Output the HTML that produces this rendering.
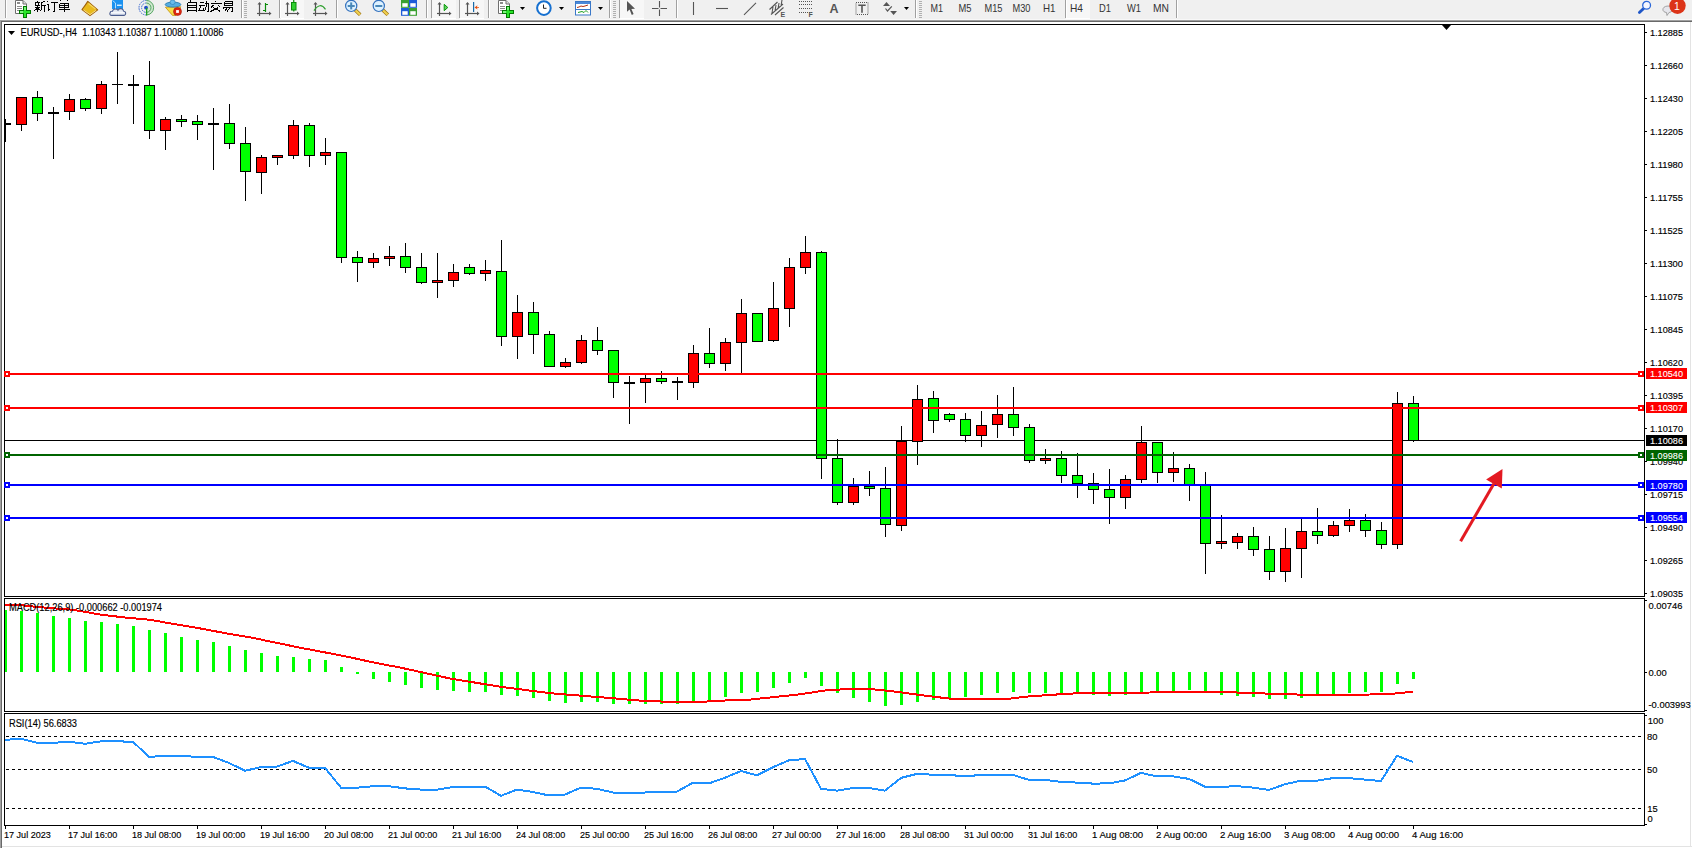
<!DOCTYPE html><html><head><meta charset="utf-8"><style>html,body{margin:0;padding:0;width:1692px;height:848px;overflow:hidden;background:#fff;font-family:"Liberation Sans",sans-serif;}svg{position:absolute;left:0;top:0}text{font-family:"Liberation Sans",sans-serif}</style></head><body>
<svg width="1692" height="848" viewBox="0 0 1692 848">
<g shape-rendering="crispEdges">
<rect x="0" y="0" width="1692" height="19" fill="#F0F0F0"/>
<rect x="0" y="19" width="1692" height="1" fill="#F8F8F8"/>
<rect x="0" y="20" width="1692" height="1" fill="#A0A0A0"/>
<rect x="0" y="21" width="1692" height="1" fill="#696969"/>
<rect x="0" y="20" width="1" height="828" fill="#A0A0A0"/>
<rect x="1" y="21" width="1" height="827" fill="#696969"/>
<rect x="2" y="846" width="1690" height="1" fill="#E3E3E3"/>
<rect x="1690" y="22" width="1" height="825" fill="#E3E3E3"/>
</g>
<rect x="5" y="0" width="1" height="18" fill="#A0A0A0" shape-rendering="crispEdges"/>
<rect x="6" y="0" width="1" height="18" fill="#FFFFFF" shape-rendering="crispEdges"/>
<path d="M15.5,0.5 H23 L26.5,4 V13.5 H15.5 Z" fill="#FFFFFF" stroke="#6E6E6E" stroke-width="1"/>
<path d="M23,0.5 V4 H26.5" fill="#E0E0E0" stroke="#6E6E6E" stroke-width="1"/>
<rect x="17" y="2" width="3" height="2" fill="#8A8A8A"/>
<rect x="17" y="6" width="5" height="1" fill="#8A8A8A"/>
<rect x="17" y="8" width="5" height="1" fill="#8A8A8A"/>
<rect x="17" y="10" width="5" height="1" fill="#8A8A8A"/>
<path d="M23.5,6.5 H26.5 V10.5 H30.5 V13.5 H26.5 V17.5 H23.5 V13.5 H19.5 V10.5 H23.5 Z" fill="#28E428" stroke="#007A00" stroke-width="1" shape-rendering="crispEdges"/>
<rect x="24" y="7" width="2" height="3" fill="#7CF47C"/>
<rect x="20" y="11" width="3" height="2" fill="#7CF47C"/>
<path d="M37.5,0.5 L37.5,1.5 M34.5,2.5 L39.5,2.5 M35.5,3.5 L36,4.5 M38.5,3.5 L38,4.5 M34.5,5.5 L39.5,5.5 M34.5,7.5 L39.5,7.5 M37.5,5.5 L37.5,11.5 M37,8.5 L34.5,10.5 M38,8.5 L39.5,10 M45,1 L41.5,2.5 M41.5,2.5 L41.5,8 L40.5,11.5 M41.5,5.5 L45.5,5.5 M44.5,5.5 L44.5,11.5" fill="none" stroke="#000" stroke-width="1" shape-rendering="crispEdges"/>
<path d="M47.5,1 L48.5,2.5 M46.5,4.5 L48.5,4.5 L48.5,10.5 L50,9 M50.5,2.5 L57.5,2.5 M54.5,2.5 L54.5,11.5 L52.5,11.5" fill="none" stroke="#000" stroke-width="1" shape-rendering="crispEdges"/>
<path d="M60.5,0.5 L61.5,1.5 M67.5,0.5 L66.5,1.5 M59.5,3.5 L68.5,3.5 L68.5,7.5 L59.5,7.5 L59.5,3.5 M59.5,5.5 L68.5,5.5 M64.5,3.5 L64.5,12 M58.5,9.5 L69.5,9.5" fill="none" stroke="#000" stroke-width="1" shape-rendering="crispEdges"/>
<path d="M190.5,0.5 L190,1.5 M187.5,2.5 L196.5,2.5 M187.5,2.5 L187.5,11.5 M196.5,2.5 L196.5,11.5 M187.5,5.5 L196.5,5.5 M187.5,7.5 L196.5,7.5 M187.5,10.5 L196.5,10.5" fill="none" stroke="#000" stroke-width="1" shape-rendering="crispEdges"/>
<path d="M199.5,2.5 L204,2.5 M198.5,5.5 L204.5,5.5 M201,5.5 L199,10.5 L204,10 M203,8.5 L204.5,11 M204.5,3.5 L208.5,3.5 L208.5,11 L207.5,11.5 M206.5,0.5 L206.5,5 L204.5,11.5" fill="none" stroke="#000" stroke-width="1" shape-rendering="crispEdges"/>
<path d="M215.5,0.5 L215.5,2 M210.5,3.5 L221.5,3.5 M213.5,5 L211,7.5 M218,5 L220.5,7.5 M213,7.5 L220.5,11.5 M218.5,7.5 L210.5,11.5" fill="none" stroke="#000" stroke-width="1" shape-rendering="crispEdges"/>
<path d="M224.5,1.5 L232.5,1.5 L232.5,5.5 L224.5,5.5 L224.5,1.5 M224.5,3.5 L232.5,3.5 M223,7.5 L232.5,7.5 L232.5,11.5 L231,11.5 M224.5,7.5 L222.5,9.5 M227.5,7.5 L224.5,11.5 M230,7.5 L227,11.5" fill="none" stroke="#000" stroke-width="1" shape-rendering="crispEdges"/>
<path d="M87.8,1.4 C86.5,3.5 84,7 82,9.5 L90,15.6 L97.7,9.8 Z" fill="#E9BA1C" stroke="#A0620A" stroke-width="1.1" stroke-linejoin="round"/>
<path d="M83.5,10 L90,14.6 L96.3,10.2" fill="none" stroke="#F6DC8A" stroke-width="1"/>
<path d="M88.5,3.5 L95.5,9" fill="none" stroke="#F5D860" stroke-width="1.2"/>
<rect x="112" y="0" width="11" height="9" fill="#1C92F0"/>
<path d="M112.5,0.5 L115.5,3 V9" fill="none" stroke="#BFE4FF" stroke-width="0.9"/>
<rect x="117" y="4.6" width="4.7" height="1.3" fill="#E8F6FF"/>
<path d="M111.5,15.4 C109,15.4 109.3,11.2 112.4,11.4 C112.8,8.6 116.5,8.2 118,10.2 C119.5,7.8 123.5,8.3 123.6,11.3 C126.3,11.3 126.3,15.4 123.8,15.4 Z" fill="#E2E7F0" stroke="#4A5C8E" stroke-width="1.1"/>
<rect x="111" y="11.8" width="13.5" height="1.6" fill="#F6F8FC"/>
<path d="M146.3,0.3 A7.4,7.4 0 0 1 146.3,15.1 Z" fill="#D2E8D2"/>
<path d="M146.3,0.40000000000000036 A7.3,7.3 0 0 0 146.3,15.0" fill="none" stroke="#3A68D0" stroke-width="1" stroke-dasharray="1.6 0.8"/>
<path d="M146.3,0.40000000000000036 A7.3,7.3 0 0 1 146.3,15.0" fill="none" stroke="#3F9A4F" stroke-width="1" opacity="0.85"/>
<path d="M146.3,3.0 A4.7,4.7 0 0 0 146.3,12.4" fill="none" stroke="#3A68D0" stroke-width="1" stroke-dasharray="1.6 0.8"/>
<path d="M146.3,3.0 A4.7,4.7 0 0 1 146.3,12.4" fill="none" stroke="#3F9A4F" stroke-width="1" opacity="0.85"/>
<circle cx="146" cy="7.7" r="1.9" fill="#2050C8"/>
<rect x="146" y="8" width="1.3" height="7.5" fill="#1EA01E"/>
<path d="M165.4,7.2 L180.8,6.8 L176,15.4 L172.5,15.4 Z" fill="#F6DC48" stroke="#C89A18" stroke-width="0.9" stroke-linejoin="round"/>
<ellipse cx="173" cy="4.6" rx="7.8" ry="2.5" fill="#55AEE2" stroke="#2A7AB0" stroke-width="0.9"/>
<ellipse cx="172.6" cy="2.2" rx="2.6" ry="2.3" fill="#6ABCEC" stroke="#2A7AB0" stroke-width="0.6"/>
<circle cx="177.5" cy="11.5" r="4" fill="#DE2810" stroke="#A81808" stroke-width="0.6"/>
<rect x="176.1" y="10.1" width="2.8" height="2.8" fill="#FFFFFF"/>
<rect x="241" y="0" width="1" height="18" fill="#A0A0A0" shape-rendering="crispEdges"/>
<rect x="242" y="0" width="1" height="18" fill="#FFFFFF" shape-rendering="crispEdges"/>
<rect x="244" y="1" width="3" height="1" fill="#B0B0B0" shape-rendering="crispEdges"/>
<rect x="244" y="3" width="3" height="1" fill="#B0B0B0" shape-rendering="crispEdges"/>
<rect x="244" y="5" width="3" height="1" fill="#B0B0B0" shape-rendering="crispEdges"/>
<rect x="244" y="7" width="3" height="1" fill="#B0B0B0" shape-rendering="crispEdges"/>
<rect x="244" y="9" width="3" height="1" fill="#B0B0B0" shape-rendering="crispEdges"/>
<rect x="244" y="11" width="3" height="1" fill="#B0B0B0" shape-rendering="crispEdges"/>
<rect x="244" y="13" width="3" height="1" fill="#B0B0B0" shape-rendering="crispEdges"/>
<rect x="244" y="15" width="3" height="1" fill="#B0B0B0" shape-rendering="crispEdges"/>
<rect x="244" y="17" width="3" height="1" fill="#B0B0B0" shape-rendering="crispEdges"/>
<g stroke="#555555" stroke-width="1.2" fill="none"><line x1="259.5" y1="3" x2="259.5" y2="16"/><line x1="257" y1="13.5" x2="270" y2="13.5"/></g>
<polygon points="257.5,4.5 261.5,4.5 259.5,2" fill="#555555"/>
<polygon points="269,11.5 269,15.5 271.5,13.5" fill="#555555"/>
<path d="M265.5,3 V12 M263,10.5 H265.5 M265.5,4.5 H268" stroke="#0A8A0A" stroke-width="1.2" fill="none"/>
<rect x="279" y="0" width="1" height="18" fill="#A0A0A0" shape-rendering="crispEdges"/>
<rect x="280" y="0" width="1" height="18" fill="#FFFFFF" shape-rendering="crispEdges"/>
<rect x="281" y="0" width="23" height="18" fill="#F7F7F7" shape-rendering="crispEdges"/>
<rect x="281" y="18" width="23" height="1" fill="#FFFFFF" shape-rendering="crispEdges"/>
<g stroke="#555555" stroke-width="1.2" fill="none"><line x1="287.5" y1="3" x2="287.5" y2="16"/><line x1="285" y1="13.5" x2="298" y2="13.5"/></g>
<polygon points="285.5,4.5 289.5,4.5 287.5,2" fill="#555555"/>
<polygon points="297,11.5 297,15.5 299.5,13.5" fill="#555555"/>
<rect x="291.5" y="2.5" width="4.5" height="7.5" fill="#30D030" stroke="#0A8A0A" stroke-width="1"/>
<path d="M293.75,0 V2.5 M293.75,10 V11.5" stroke="#0A8A0A" stroke-width="1.2"/>
<g stroke="#555555" stroke-width="1.2" fill="none"><line x1="315.5" y1="3" x2="315.5" y2="16"/><line x1="313" y1="13.5" x2="326" y2="13.5"/></g>
<polygon points="313.5,4.5 317.5,4.5 315.5,2" fill="#555555"/>
<polygon points="325,11.5 325,15.5 327.5,13.5" fill="#555555"/>
<path d="M314,10.6 Q320,1.5 325.5,9.3" fill="none" stroke="#30A030" stroke-width="1.2"/>
<rect x="336" y="0" width="1" height="18" fill="#A0A0A0" shape-rendering="crispEdges"/>
<rect x="337" y="0" width="1" height="18" fill="#FFFFFF" shape-rendering="crispEdges"/>
<line x1="355.2" y1="10" x2="360.2" y2="14.8" stroke="#9A7010" stroke-width="3.6"/>
<line x1="355.4" y1="10.2" x2="360.0" y2="14.6" stroke="#F0D050" stroke-width="2.2"/>
<circle cx="351.2" cy="5.9" r="5.6" fill="#DDF1FF" stroke="#3472BE" stroke-width="1.2"/>
<rect x="347.7" y="5" width="7" height="2" fill="#4A88B8"/>
<rect x="350.2" y="2.4" width="2" height="7" fill="#4A88B8"/>
<line x1="382.8" y1="10" x2="387.8" y2="14.8" stroke="#9A7010" stroke-width="3.6"/>
<line x1="383.0" y1="10.2" x2="387.6" y2="14.6" stroke="#F0D050" stroke-width="2.2"/>
<circle cx="378.8" cy="5.9" r="5.6" fill="#DDF1FF" stroke="#3472BE" stroke-width="1.2"/>
<rect x="375.3" y="5" width="7" height="2" fill="#4A88B8"/>
<rect x="401" y="0" width="8" height="7.8" fill="#3AA030"/>
<rect x="402.3" y="3.2" width="5.4" height="3.6" fill="#FFFFFF"/>
<rect x="409" y="0" width="8" height="7.8" fill="#1E5CD8"/>
<rect x="410.3" y="3.2" width="5.4" height="3.6" fill="#FFFFFF"/>
<rect x="401" y="8" width="8" height="7.8" fill="#1E5CD8"/>
<rect x="402.3" y="11.2" width="5.4" height="3.6" fill="#FFFFFF"/>
<rect x="409" y="8" width="8" height="7.8" fill="#3AA030"/>
<rect x="410.3" y="11.2" width="5.4" height="3.6" fill="#FFFFFF"/>
<rect x="426" y="0" width="1" height="18" fill="#A0A0A0" shape-rendering="crispEdges"/>
<rect x="427" y="0" width="1" height="18" fill="#FFFFFF" shape-rendering="crispEdges"/>
<rect x="431" y="0" width="1" height="18" fill="#A0A0A0" shape-rendering="crispEdges"/>
<rect x="432" y="0" width="1" height="18" fill="#FFFFFF" shape-rendering="crispEdges"/>
<rect x="432" y="0" width="24" height="18" fill="#F7F7F7" shape-rendering="crispEdges"/>
<rect x="432" y="18" width="24" height="1" fill="#FFFFFF" shape-rendering="crispEdges"/>
<g stroke="#555555" stroke-width="1.2" fill="none"><line x1="439.5" y1="3" x2="439.5" y2="16"/><line x1="437" y1="13.5" x2="450" y2="13.5"/></g>
<polygon points="437.5,4.5 441.5,4.5 439.5,2" fill="#555555"/>
<polygon points="449,11.5 449,15.5 451.5,13.5" fill="#555555"/>
<polygon points="444.2,4.3 447.8,7.5 444.2,10.7" fill="#60D060" stroke="#0A9A0A" stroke-width="1"/>
<rect x="459" y="0" width="1" height="18" fill="#A0A0A0" shape-rendering="crispEdges"/>
<rect x="460" y="0" width="1" height="18" fill="#FFFFFF" shape-rendering="crispEdges"/>
<rect x="460" y="0" width="24" height="18" fill="#F7F7F7" shape-rendering="crispEdges"/>
<rect x="460" y="18" width="24" height="1" fill="#FFFFFF" shape-rendering="crispEdges"/>
<g stroke="#555555" stroke-width="1.2" fill="none"><line x1="467.5" y1="3" x2="467.5" y2="16"/><line x1="465" y1="13.5" x2="478" y2="13.5"/></g>
<polygon points="465.5,4.5 469.5,4.5 467.5,2" fill="#555555"/>
<polygon points="477,11.5 477,15.5 479.5,13.5" fill="#555555"/>
<rect x="473" y="2" width="1.2" height="10" fill="#1A6AA8"/>
<path d="M474.5,7.4 L477.5,5.2 L477,7 L479,7 L479,7.8 L477,7.8 L477.5,9.6 Z" fill="#E85010"/>
<rect x="488" y="0" width="1" height="18" fill="#A0A0A0" shape-rendering="crispEdges"/>
<rect x="489" y="0" width="1" height="18" fill="#FFFFFF" shape-rendering="crispEdges"/>
<path d="M498.5,0.5 H506 L509.5,4 V13.5 H498.5 Z" fill="#FFFFFF" stroke="#6E6E6E" stroke-width="1"/>
<path d="M506,0.5 V4 H509.5" fill="#E0E0E0" stroke="#6E6E6E" stroke-width="1"/>
<rect x="500" y="2" width="3" height="2" fill="#8A8A8A"/>
<rect x="500" y="6" width="5" height="1" fill="#8A8A8A"/>
<rect x="500" y="8" width="5" height="1" fill="#8A8A8A"/>
<rect x="500" y="10" width="5" height="1" fill="#8A8A8A"/>
<path d="M506.5,6.5 H509.5 V10.5 H513.5 V13.5 H509.5 V17.5 H506.5 V13.5 H502.5 V10.5 H506.5 Z" fill="#28E428" stroke="#007A00" stroke-width="1" shape-rendering="crispEdges"/>
<rect x="507" y="7" width="2" height="3" fill="#7CF47C"/>
<rect x="503" y="11" width="3" height="2" fill="#7CF47C"/>
<polygon points="520,7 525,7 522.5,10" fill="#000"/>
<circle cx="543.9" cy="8.1" r="6.8" fill="#FFFFFF" stroke="#1670D0" stroke-width="2"/>
<path d="M543.5,4.5 V8.3 H546.5" fill="none" stroke="#222" stroke-width="1"/>
<polygon points="559,7 564,7 561.5,10" fill="#000"/>
<rect x="575.5" y="1.5" width="15" height="13.5" fill="#FFFFFF" stroke="#3A78C8" stroke-width="1"/>
<rect x="576" y="2" width="14" height="2" fill="#4A88D8"/>
<rect x="576" y="9" width="14" height="1" fill="#3A78C8"/>
<path d="M577,7.5 L579,7 L581,6 L583,6.5 L585,6 L588,5" fill="none" stroke="#B03010" stroke-width="1"/>
<path d="M578,12.5 L580,12 L582,11.5 L584,12.5 L586,10.5 L588,12.5" fill="none" stroke="#20A020" stroke-width="1"/>
<polygon points="598,7 603,7 600.5,10" fill="#000"/>
<rect x="609" y="0" width="1" height="18" fill="#A0A0A0" shape-rendering="crispEdges"/>
<rect x="610" y="0" width="1" height="18" fill="#FFFFFF" shape-rendering="crispEdges"/>
<rect x="613" y="1" width="3" height="1" fill="#B0B0B0" shape-rendering="crispEdges"/>
<rect x="613" y="3" width="3" height="1" fill="#B0B0B0" shape-rendering="crispEdges"/>
<rect x="613" y="5" width="3" height="1" fill="#B0B0B0" shape-rendering="crispEdges"/>
<rect x="613" y="7" width="3" height="1" fill="#B0B0B0" shape-rendering="crispEdges"/>
<rect x="613" y="9" width="3" height="1" fill="#B0B0B0" shape-rendering="crispEdges"/>
<rect x="613" y="11" width="3" height="1" fill="#B0B0B0" shape-rendering="crispEdges"/>
<rect x="613" y="13" width="3" height="1" fill="#B0B0B0" shape-rendering="crispEdges"/>
<rect x="613" y="15" width="3" height="1" fill="#B0B0B0" shape-rendering="crispEdges"/>
<rect x="613" y="17" width="3" height="1" fill="#B0B0B0" shape-rendering="crispEdges"/>
<rect x="619" y="0" width="1" height="18" fill="#A0A0A0" shape-rendering="crispEdges"/>
<rect x="620" y="0" width="1" height="18" fill="#FFFFFF" shape-rendering="crispEdges"/>
<rect x="620" y="0" width="24" height="18" fill="#F7F7F7" shape-rendering="crispEdges"/>
<rect x="620" y="18" width="24" height="1" fill="#FFFFFF" shape-rendering="crispEdges"/>
<path d="M627,1 L627,11.7 L629.6,9.5 L631.8,14.9 L633.6,14.1 L631.4,9 L635,8.8 Z" fill="#555555"/>
<path d="M659.5,1 V7.5 M659.5,9.5 V16 M652,8.5 H658.5 M660.5,8.5 H667" stroke="#555555" stroke-width="1.1" fill="none"/>
<rect x="676" y="0" width="1" height="18" fill="#A0A0A0" shape-rendering="crispEdges"/>
<rect x="677" y="0" width="1" height="18" fill="#FFFFFF" shape-rendering="crispEdges"/>
<line x1="693.5" y1="2" x2="693.5" y2="15" stroke="#555555" stroke-width="1.1"/>
<line x1="716" y1="8.5" x2="728" y2="8.5" stroke="#555555" stroke-width="1.1"/>
<line x1="744" y1="14.8" x2="756" y2="2.8" stroke="#555555" stroke-width="1.1"/>
<path d="M769.5,9.5 L777.5,2 M771,14.5 L783,4 M775,15 L783.5,7.5 M773,7 L772,13 M776,5 L775,11 M779,3 L778,9 M782,0 L781,6" fill="none" stroke="#555555" stroke-width="1.1"/>
<text x="780.5" y="17" font-size="7" font-weight="bold" fill="#555555">E</text>
<line x1="799" y1="1.5" x2="813" y2="1.5" stroke="#555555" stroke-width="1" stroke-dasharray="1 1"/>
<line x1="799" y1="4.5" x2="813" y2="4.5" stroke="#555555" stroke-width="1" stroke-dasharray="1 1"/>
<line x1="799" y1="8.5" x2="813" y2="8.5" stroke="#555555" stroke-width="1" stroke-dasharray="1 1"/>
<line x1="799" y1="12.5" x2="813" y2="12.5" stroke="#555555" stroke-width="1" stroke-dasharray="1 1"/>
<text x="808.5" y="17" font-size="7" font-weight="bold" fill="#555555">F</text>
<text x="829.5" y="13.2" font-size="12.5" font-weight="bold" fill="#555555">A</text>
<rect x="856" y="2.5" width="12" height="12" fill="none" stroke="#555555" stroke-width="1" stroke-dasharray="1 1"/>
<path d="M858.3,5.3 H865.7 M862,5.3 V12.8" stroke="#555555" stroke-width="1.6" fill="none"/>
<polygon points="883,6 890,6 886.5,2" fill="#555555"/>
<path d="M885.5,8.5 L887.5,11 L891.8,6.4" fill="none" stroke="#555555" stroke-width="1.2"/>
<polygon points="890.2,11 897,11 893.6,15" fill="#555555"/>
<polygon points="904,7 909,7 906.5,10" fill="#000"/>
<rect x="915" y="0" width="1" height="18" fill="#A0A0A0" shape-rendering="crispEdges"/>
<rect x="916" y="0" width="1" height="18" fill="#FFFFFF" shape-rendering="crispEdges"/>
<rect x="919" y="1" width="3" height="1" fill="#B0B0B0" shape-rendering="crispEdges"/>
<rect x="919" y="3" width="3" height="1" fill="#B0B0B0" shape-rendering="crispEdges"/>
<rect x="919" y="5" width="3" height="1" fill="#B0B0B0" shape-rendering="crispEdges"/>
<rect x="919" y="7" width="3" height="1" fill="#B0B0B0" shape-rendering="crispEdges"/>
<rect x="919" y="9" width="3" height="1" fill="#B0B0B0" shape-rendering="crispEdges"/>
<rect x="919" y="11" width="3" height="1" fill="#B0B0B0" shape-rendering="crispEdges"/>
<rect x="919" y="13" width="3" height="1" fill="#B0B0B0" shape-rendering="crispEdges"/>
<rect x="919" y="15" width="3" height="1" fill="#B0B0B0" shape-rendering="crispEdges"/>
<rect x="919" y="17" width="3" height="1" fill="#B0B0B0" shape-rendering="crispEdges"/>
<rect x="1066" y="0" width="24" height="18" fill="#F7F7F7" shape-rendering="crispEdges"/>
<rect x="1066" y="18" width="24" height="1" fill="#FFFFFF" shape-rendering="crispEdges"/>
<rect x="1065" y="0" width="1" height="18" fill="#A0A0A0" shape-rendering="crispEdges"/>
<rect x="1066" y="0" width="1" height="18" fill="#FFFFFF" shape-rendering="crispEdges"/>
<text x="930.5" y="12.3" font-size="10.4" fill="#333333" textLength="12.5" lengthAdjust="spacingAndGlyphs">M1</text>
<text x="958.5" y="12.3" font-size="10.4" fill="#333333" textLength="13" lengthAdjust="spacingAndGlyphs">M5</text>
<text x="984.5" y="12.3" font-size="10.4" fill="#333333" textLength="18" lengthAdjust="spacingAndGlyphs">M15</text>
<text x="1012.5" y="12.3" font-size="10.4" fill="#333333" textLength="18" lengthAdjust="spacingAndGlyphs">M30</text>
<text x="1043" y="12.3" font-size="10.4" fill="#333333" textLength="12.5" lengthAdjust="spacingAndGlyphs">H1</text>
<text x="1070" y="12.3" font-size="10.4" fill="#333333" textLength="13" lengthAdjust="spacingAndGlyphs">H4</text>
<text x="1099" y="12.3" font-size="10.4" fill="#333333" textLength="12" lengthAdjust="spacingAndGlyphs">D1</text>
<text x="1127" y="12.3" font-size="10.4" fill="#333333" textLength="14" lengthAdjust="spacingAndGlyphs">W1</text>
<text x="1153" y="12.3" font-size="10.4" fill="#333333" textLength="16" lengthAdjust="spacingAndGlyphs">MN</text>
<rect x="1176" y="0" width="1" height="18" fill="#A0A0A0" shape-rendering="crispEdges"/>
<rect x="1177" y="0" width="1" height="18" fill="#FFFFFF" shape-rendering="crispEdges"/>
<line x1="1643.6" y1="8.4" x2="1639.4" y2="12.6" stroke="#1E56C8" stroke-width="2.8" stroke-linecap="round"/>
<circle cx="1646.6" cy="5.3" r="3.9" fill="#F4F6FF" stroke="#2A66D8" stroke-width="1.3"/>
<path d="M1667,15.5 L1666.5,12.5 C1661,12 1662,6 1668,6 C1673,6 1674,12 1669,12.5 Z" fill="#E6E6EC" stroke="#9A9A9A" stroke-width="0.9"/>
<circle cx="1677.5" cy="5.8" r="8.2" fill="#DC3418"/>
<text x="1674" y="10" font-size="10.5" fill="#FFFFFF" font-family="Liberation Serif">1</text>
<g shape-rendering="crispEdges" fill="none" stroke="#000" stroke-width="1">
<rect x="4.5" y="24.5" width="1640" height="572"/>
<rect x="4.5" y="598.5" width="1640" height="113"/>
<rect x="4.5" y="713.5" width="1640" height="112"/>
</g>
<defs><clipPath id="cm"><rect x="5" y="25" width="1639" height="571"/></clipPath><clipPath id="cd"><rect x="5" y="599" width="1639" height="112"/></clipPath><clipPath id="cr"><rect x="5" y="714" width="1639" height="111"/></clipPath></defs>
<g clip-path="url(#cm)" shape-rendering="crispEdges">
<rect x="5" y="440" width="1639" height="1" fill="#000"/>
<rect x="5" y="119" width="1" height="23" fill="#000"/>
<rect x="0" y="123" width="11" height="2" fill="#000"/>
<rect x="21" y="97" width="1" height="34" fill="#000"/>
<rect x="16" y="97" width="11" height="28" fill="#000"/>
<rect x="17" y="98" width="9" height="26" fill="#FF0000"/>
<rect x="37" y="91" width="1" height="30" fill="#000"/>
<rect x="32" y="97" width="11" height="17" fill="#000"/>
<rect x="33" y="98" width="9" height="15" fill="#00FF00"/>
<rect x="53" y="107" width="1" height="52" fill="#000"/>
<rect x="48" y="112" width="11" height="2" fill="#000"/>
<rect x="69" y="94" width="1" height="26" fill="#000"/>
<rect x="64" y="99" width="11" height="13" fill="#000"/>
<rect x="65" y="100" width="9" height="11" fill="#FF0000"/>
<rect x="85" y="98" width="1" height="13" fill="#000"/>
<rect x="80" y="99" width="11" height="10" fill="#000"/>
<rect x="81" y="100" width="9" height="8" fill="#00FF00"/>
<rect x="101" y="81" width="1" height="33" fill="#000"/>
<rect x="96" y="84" width="11" height="25" fill="#000"/>
<rect x="97" y="85" width="9" height="23" fill="#FF0000"/>
<rect x="117" y="52" width="1" height="52" fill="#000"/>
<rect x="112" y="84" width="11" height="1" fill="#000"/>
<rect x="133" y="75" width="1" height="49" fill="#000"/>
<rect x="128" y="84" width="11" height="2" fill="#000"/>
<rect x="149" y="61" width="1" height="78" fill="#000"/>
<rect x="144" y="85" width="11" height="46" fill="#000"/>
<rect x="145" y="86" width="9" height="44" fill="#00FF00"/>
<rect x="165" y="117" width="1" height="33" fill="#000"/>
<rect x="160" y="119" width="11" height="12" fill="#000"/>
<rect x="161" y="120" width="9" height="10" fill="#FF0000"/>
<rect x="181" y="115" width="1" height="12" fill="#000"/>
<rect x="176" y="119" width="11" height="3" fill="#000"/>
<rect x="177" y="120" width="9" height="1" fill="#00FF00"/>
<rect x="197" y="115" width="1" height="25" fill="#000"/>
<rect x="192" y="121" width="11" height="4" fill="#000"/>
<rect x="193" y="122" width="9" height="2" fill="#00FF00"/>
<rect x="213" y="108" width="1" height="62" fill="#000"/>
<rect x="208" y="123" width="11" height="2" fill="#000"/>
<rect x="229" y="104" width="1" height="45" fill="#000"/>
<rect x="224" y="123" width="11" height="21" fill="#000"/>
<rect x="225" y="124" width="9" height="19" fill="#00FF00"/>
<rect x="245" y="127" width="1" height="74" fill="#000"/>
<rect x="240" y="143" width="11" height="29" fill="#000"/>
<rect x="241" y="144" width="9" height="27" fill="#00FF00"/>
<rect x="261" y="155" width="1" height="39" fill="#000"/>
<rect x="256" y="157" width="11" height="16" fill="#000"/>
<rect x="257" y="158" width="9" height="14" fill="#FF0000"/>
<rect x="277" y="155" width="1" height="10" fill="#000"/>
<rect x="272" y="155" width="11" height="3" fill="#000"/>
<rect x="273" y="156" width="9" height="1" fill="#FF0000"/>
<rect x="293" y="120" width="1" height="39" fill="#000"/>
<rect x="288" y="125" width="11" height="31" fill="#000"/>
<rect x="289" y="126" width="9" height="29" fill="#FF0000"/>
<rect x="309" y="123" width="1" height="44" fill="#000"/>
<rect x="304" y="125" width="11" height="31" fill="#000"/>
<rect x="305" y="126" width="9" height="29" fill="#00FF00"/>
<rect x="325" y="138" width="1" height="27" fill="#000"/>
<rect x="320" y="152" width="11" height="4" fill="#000"/>
<rect x="321" y="153" width="9" height="2" fill="#FF0000"/>
<rect x="341" y="152" width="1" height="111" fill="#000"/>
<rect x="336" y="152" width="11" height="106" fill="#000"/>
<rect x="337" y="153" width="9" height="104" fill="#00FF00"/>
<rect x="357" y="251" width="1" height="31" fill="#000"/>
<rect x="352" y="257" width="11" height="6" fill="#000"/>
<rect x="353" y="258" width="9" height="4" fill="#00FF00"/>
<rect x="373" y="253" width="1" height="15" fill="#000"/>
<rect x="368" y="258" width="11" height="5" fill="#000"/>
<rect x="369" y="259" width="9" height="3" fill="#FF0000"/>
<rect x="389" y="246" width="1" height="20" fill="#000"/>
<rect x="384" y="256" width="11" height="3" fill="#000"/>
<rect x="385" y="257" width="9" height="1" fill="#FF0000"/>
<rect x="405" y="243" width="1" height="30" fill="#000"/>
<rect x="400" y="256" width="11" height="12" fill="#000"/>
<rect x="401" y="257" width="9" height="10" fill="#00FF00"/>
<rect x="421" y="253" width="1" height="31" fill="#000"/>
<rect x="416" y="267" width="11" height="16" fill="#000"/>
<rect x="417" y="268" width="9" height="14" fill="#00FF00"/>
<rect x="437" y="253" width="1" height="45" fill="#000"/>
<rect x="432" y="280" width="11" height="3" fill="#000"/>
<rect x="433" y="281" width="9" height="1" fill="#FF0000"/>
<rect x="453" y="264" width="1" height="23" fill="#000"/>
<rect x="448" y="272" width="11" height="9" fill="#000"/>
<rect x="449" y="273" width="9" height="7" fill="#FF0000"/>
<rect x="469" y="264" width="1" height="11" fill="#000"/>
<rect x="464" y="267" width="11" height="7" fill="#000"/>
<rect x="465" y="268" width="9" height="5" fill="#00FF00"/>
<rect x="485" y="260" width="1" height="21" fill="#000"/>
<rect x="480" y="270" width="11" height="4" fill="#000"/>
<rect x="481" y="271" width="9" height="2" fill="#FF0000"/>
<rect x="501" y="240" width="1" height="106" fill="#000"/>
<rect x="496" y="271" width="11" height="66" fill="#000"/>
<rect x="497" y="272" width="9" height="64" fill="#00FF00"/>
<rect x="517" y="295" width="1" height="64" fill="#000"/>
<rect x="512" y="312" width="11" height="25" fill="#000"/>
<rect x="513" y="313" width="9" height="23" fill="#FF0000"/>
<rect x="533" y="302" width="1" height="52" fill="#000"/>
<rect x="528" y="312" width="11" height="23" fill="#000"/>
<rect x="529" y="313" width="9" height="21" fill="#00FF00"/>
<rect x="549" y="331" width="1" height="36" fill="#000"/>
<rect x="544" y="334" width="11" height="33" fill="#000"/>
<rect x="545" y="335" width="9" height="31" fill="#00FF00"/>
<rect x="565" y="358" width="1" height="10" fill="#000"/>
<rect x="560" y="362" width="11" height="5" fill="#000"/>
<rect x="561" y="363" width="9" height="3" fill="#FF0000"/>
<rect x="581" y="335" width="1" height="29" fill="#000"/>
<rect x="576" y="340" width="11" height="23" fill="#000"/>
<rect x="577" y="341" width="9" height="21" fill="#FF0000"/>
<rect x="597" y="327" width="1" height="28" fill="#000"/>
<rect x="592" y="340" width="11" height="11" fill="#000"/>
<rect x="593" y="341" width="9" height="9" fill="#00FF00"/>
<rect x="613" y="350" width="1" height="48" fill="#000"/>
<rect x="608" y="350" width="11" height="33" fill="#000"/>
<rect x="609" y="351" width="9" height="31" fill="#00FF00"/>
<rect x="629" y="376" width="1" height="48" fill="#000"/>
<rect x="624" y="382" width="11" height="2" fill="#000"/>
<rect x="645" y="375" width="1" height="28" fill="#000"/>
<rect x="640" y="378" width="11" height="5" fill="#000"/>
<rect x="641" y="379" width="9" height="3" fill="#FF0000"/>
<rect x="661" y="371" width="1" height="13" fill="#000"/>
<rect x="656" y="378" width="11" height="4" fill="#000"/>
<rect x="657" y="379" width="9" height="2" fill="#00FF00"/>
<rect x="677" y="377" width="1" height="23" fill="#000"/>
<rect x="672" y="381" width="11" height="2" fill="#000"/>
<rect x="693" y="345" width="1" height="43" fill="#000"/>
<rect x="688" y="353" width="11" height="30" fill="#000"/>
<rect x="689" y="354" width="9" height="28" fill="#FF0000"/>
<rect x="709" y="328" width="1" height="40" fill="#000"/>
<rect x="704" y="353" width="11" height="11" fill="#000"/>
<rect x="705" y="354" width="9" height="9" fill="#00FF00"/>
<rect x="725" y="338" width="1" height="33" fill="#000"/>
<rect x="720" y="342" width="11" height="22" fill="#000"/>
<rect x="721" y="343" width="9" height="20" fill="#FF0000"/>
<rect x="741" y="299" width="1" height="74" fill="#000"/>
<rect x="736" y="313" width="11" height="30" fill="#000"/>
<rect x="737" y="314" width="9" height="28" fill="#FF0000"/>
<rect x="757" y="313" width="1" height="29" fill="#000"/>
<rect x="752" y="313" width="11" height="29" fill="#000"/>
<rect x="753" y="314" width="9" height="27" fill="#00FF00"/>
<rect x="773" y="282" width="1" height="60" fill="#000"/>
<rect x="768" y="308" width="11" height="33" fill="#000"/>
<rect x="769" y="309" width="9" height="31" fill="#FF0000"/>
<rect x="789" y="258" width="1" height="69" fill="#000"/>
<rect x="784" y="267" width="11" height="42" fill="#000"/>
<rect x="785" y="268" width="9" height="40" fill="#FF0000"/>
<rect x="805" y="236" width="1" height="38" fill="#000"/>
<rect x="800" y="252" width="11" height="16" fill="#000"/>
<rect x="801" y="253" width="9" height="14" fill="#FF0000"/>
<rect x="821" y="251" width="1" height="228" fill="#000"/>
<rect x="816" y="252" width="11" height="207" fill="#000"/>
<rect x="817" y="253" width="9" height="205" fill="#00FF00"/>
<rect x="837" y="439" width="1" height="66" fill="#000"/>
<rect x="832" y="458" width="11" height="45" fill="#000"/>
<rect x="833" y="459" width="9" height="43" fill="#00FF00"/>
<rect x="853" y="478" width="1" height="27" fill="#000"/>
<rect x="848" y="486" width="11" height="17" fill="#000"/>
<rect x="849" y="487" width="9" height="15" fill="#FF0000"/>
<rect x="869" y="471" width="1" height="25" fill="#000"/>
<rect x="864" y="486" width="11" height="3" fill="#000"/>
<rect x="865" y="487" width="9" height="1" fill="#00FF00"/>
<rect x="885" y="467" width="1" height="70" fill="#000"/>
<rect x="880" y="488" width="11" height="37" fill="#000"/>
<rect x="881" y="489" width="9" height="35" fill="#00FF00"/>
<rect x="901" y="426" width="1" height="105" fill="#000"/>
<rect x="896" y="441" width="11" height="85" fill="#000"/>
<rect x="897" y="442" width="9" height="83" fill="#FF0000"/>
<rect x="917" y="385" width="1" height="80" fill="#000"/>
<rect x="912" y="399" width="11" height="43" fill="#000"/>
<rect x="913" y="400" width="9" height="41" fill="#FF0000"/>
<rect x="933" y="391" width="1" height="42" fill="#000"/>
<rect x="928" y="398" width="11" height="23" fill="#000"/>
<rect x="929" y="399" width="9" height="21" fill="#00FF00"/>
<rect x="949" y="413" width="1" height="9" fill="#000"/>
<rect x="944" y="414" width="11" height="6" fill="#000"/>
<rect x="945" y="415" width="9" height="4" fill="#00FF00"/>
<rect x="965" y="413" width="1" height="29" fill="#000"/>
<rect x="960" y="419" width="11" height="17" fill="#000"/>
<rect x="961" y="420" width="9" height="15" fill="#00FF00"/>
<rect x="981" y="411" width="1" height="36" fill="#000"/>
<rect x="976" y="425" width="11" height="11" fill="#000"/>
<rect x="977" y="426" width="9" height="9" fill="#FF0000"/>
<rect x="997" y="395" width="1" height="43" fill="#000"/>
<rect x="992" y="414" width="11" height="11" fill="#000"/>
<rect x="993" y="415" width="9" height="9" fill="#FF0000"/>
<rect x="1013" y="387" width="1" height="49" fill="#000"/>
<rect x="1008" y="414" width="11" height="14" fill="#000"/>
<rect x="1009" y="415" width="9" height="12" fill="#00FF00"/>
<rect x="1029" y="424" width="1" height="39" fill="#000"/>
<rect x="1024" y="427" width="11" height="34" fill="#000"/>
<rect x="1025" y="428" width="9" height="32" fill="#00FF00"/>
<rect x="1045" y="449" width="1" height="15" fill="#000"/>
<rect x="1040" y="458" width="11" height="3" fill="#000"/>
<rect x="1041" y="459" width="9" height="1" fill="#FF0000"/>
<rect x="1061" y="451" width="1" height="32" fill="#000"/>
<rect x="1056" y="458" width="11" height="18" fill="#000"/>
<rect x="1057" y="459" width="9" height="16" fill="#00FF00"/>
<rect x="1077" y="453" width="1" height="45" fill="#000"/>
<rect x="1072" y="475" width="11" height="9" fill="#000"/>
<rect x="1073" y="476" width="9" height="7" fill="#00FF00"/>
<rect x="1093" y="473" width="1" height="31" fill="#000"/>
<rect x="1088" y="483" width="11" height="7" fill="#000"/>
<rect x="1089" y="484" width="9" height="5" fill="#00FF00"/>
<rect x="1109" y="469" width="1" height="55" fill="#000"/>
<rect x="1104" y="489" width="11" height="9" fill="#000"/>
<rect x="1105" y="490" width="9" height="7" fill="#00FF00"/>
<rect x="1125" y="475" width="1" height="34" fill="#000"/>
<rect x="1120" y="479" width="11" height="19" fill="#000"/>
<rect x="1121" y="480" width="9" height="17" fill="#FF0000"/>
<rect x="1141" y="426" width="1" height="57" fill="#000"/>
<rect x="1136" y="442" width="11" height="38" fill="#000"/>
<rect x="1137" y="443" width="9" height="36" fill="#FF0000"/>
<rect x="1157" y="442" width="1" height="41" fill="#000"/>
<rect x="1152" y="442" width="11" height="31" fill="#000"/>
<rect x="1153" y="443" width="9" height="29" fill="#00FF00"/>
<rect x="1173" y="452" width="1" height="30" fill="#000"/>
<rect x="1168" y="468" width="11" height="5" fill="#000"/>
<rect x="1169" y="469" width="9" height="3" fill="#FF0000"/>
<rect x="1189" y="464" width="1" height="37" fill="#000"/>
<rect x="1184" y="468" width="11" height="17" fill="#000"/>
<rect x="1185" y="469" width="9" height="15" fill="#00FF00"/>
<rect x="1205" y="472" width="1" height="102" fill="#000"/>
<rect x="1200" y="485" width="11" height="59" fill="#000"/>
<rect x="1201" y="486" width="9" height="57" fill="#00FF00"/>
<rect x="1221" y="515" width="1" height="34" fill="#000"/>
<rect x="1216" y="541" width="11" height="3" fill="#000"/>
<rect x="1217" y="542" width="9" height="1" fill="#FF0000"/>
<rect x="1237" y="533" width="1" height="16" fill="#000"/>
<rect x="1232" y="536" width="11" height="7" fill="#000"/>
<rect x="1233" y="537" width="9" height="5" fill="#FF0000"/>
<rect x="1253" y="527" width="1" height="29" fill="#000"/>
<rect x="1248" y="536" width="11" height="14" fill="#000"/>
<rect x="1249" y="537" width="9" height="12" fill="#00FF00"/>
<rect x="1269" y="536" width="1" height="44" fill="#000"/>
<rect x="1264" y="549" width="11" height="23" fill="#000"/>
<rect x="1265" y="550" width="9" height="21" fill="#00FF00"/>
<rect x="1285" y="528" width="1" height="54" fill="#000"/>
<rect x="1280" y="548" width="11" height="24" fill="#000"/>
<rect x="1281" y="549" width="9" height="22" fill="#FF0000"/>
<rect x="1301" y="518" width="1" height="60" fill="#000"/>
<rect x="1296" y="531" width="11" height="18" fill="#000"/>
<rect x="1297" y="532" width="9" height="16" fill="#FF0000"/>
<rect x="1317" y="508" width="1" height="36" fill="#000"/>
<rect x="1312" y="531" width="11" height="5" fill="#000"/>
<rect x="1313" y="532" width="9" height="3" fill="#00FF00"/>
<rect x="1333" y="521" width="1" height="16" fill="#000"/>
<rect x="1328" y="525" width="11" height="11" fill="#000"/>
<rect x="1329" y="526" width="9" height="9" fill="#FF0000"/>
<rect x="1349" y="509" width="1" height="23" fill="#000"/>
<rect x="1344" y="520" width="11" height="6" fill="#000"/>
<rect x="1345" y="521" width="9" height="4" fill="#FF0000"/>
<rect x="1365" y="514" width="1" height="23" fill="#000"/>
<rect x="1360" y="520" width="11" height="11" fill="#000"/>
<rect x="1361" y="521" width="9" height="9" fill="#00FF00"/>
<rect x="1381" y="522" width="1" height="27" fill="#000"/>
<rect x="1376" y="530" width="11" height="15" fill="#000"/>
<rect x="1377" y="531" width="9" height="13" fill="#00FF00"/>
<rect x="1397" y="392" width="1" height="157" fill="#000"/>
<rect x="1392" y="403" width="11" height="142" fill="#000"/>
<rect x="1393" y="404" width="9" height="140" fill="#FF0000"/>
<rect x="1413" y="396" width="1" height="46" fill="#000"/>
<rect x="1408" y="403" width="11" height="38" fill="#000"/>
<rect x="1409" y="404" width="9" height="36" fill="#00FF00"/>
<rect x="5" y="373" width="1639" height="2" fill="#FF0000"/>
<rect x="5" y="407" width="1639" height="2" fill="#FF0000"/>
<rect x="5" y="454" width="1639" height="2" fill="#006400"/>
<rect x="5" y="484" width="1639" height="2" fill="#0000FF"/>
<rect x="5" y="517" width="1639" height="2" fill="#0000FF"/>
</g>
<g shape-rendering="crispEdges">
<rect x="4" y="371" width="6" height="6" fill="#FF0000"/>
<rect x="6" y="373" width="2" height="2" fill="#fff"/>
<rect x="1638" y="371" width="6" height="6" fill="#FF0000"/>
<rect x="1640" y="373" width="2" height="2" fill="#fff"/>
<rect x="4" y="405" width="6" height="6" fill="#FF0000"/>
<rect x="6" y="407" width="2" height="2" fill="#fff"/>
<rect x="1638" y="405" width="6" height="6" fill="#FF0000"/>
<rect x="1640" y="407" width="2" height="2" fill="#fff"/>
<rect x="4" y="452" width="6" height="6" fill="#006400"/>
<rect x="6" y="454" width="2" height="2" fill="#fff"/>
<rect x="1638" y="452" width="6" height="6" fill="#006400"/>
<rect x="1640" y="454" width="2" height="2" fill="#fff"/>
<rect x="4" y="482" width="6" height="6" fill="#0000FF"/>
<rect x="6" y="484" width="2" height="2" fill="#fff"/>
<rect x="1638" y="482" width="6" height="6" fill="#0000FF"/>
<rect x="1640" y="484" width="2" height="2" fill="#fff"/>
<rect x="4" y="515" width="6" height="6" fill="#0000FF"/>
<rect x="6" y="517" width="2" height="2" fill="#fff"/>
<rect x="1638" y="515" width="6" height="6" fill="#0000FF"/>
<rect x="1640" y="517" width="2" height="2" fill="#fff"/>
</g>
<g clip-path="url(#cd)" shape-rendering="crispEdges" fill="#00FF00">
<rect x="4" y="610" width="3" height="62"/>
<rect x="20" y="611" width="3" height="61"/>
<rect x="36" y="613" width="3" height="59"/>
<rect x="52" y="616" width="3" height="56"/>
<rect x="68" y="618" width="3" height="54"/>
<rect x="84" y="621" width="3" height="51"/>
<rect x="100" y="622" width="3" height="50"/>
<rect x="116" y="624" width="3" height="48"/>
<rect x="132" y="626" width="3" height="46"/>
<rect x="148" y="630" width="3" height="42"/>
<rect x="164" y="633" width="3" height="39"/>
<rect x="180" y="637" width="3" height="35"/>
<rect x="196" y="640" width="3" height="32"/>
<rect x="212" y="642" width="3" height="30"/>
<rect x="228" y="646" width="3" height="26"/>
<rect x="244" y="650" width="3" height="22"/>
<rect x="260" y="653" width="3" height="19"/>
<rect x="276" y="656" width="3" height="16"/>
<rect x="292" y="657" width="3" height="15"/>
<rect x="308" y="659" width="3" height="13"/>
<rect x="324" y="660" width="3" height="12"/>
<rect x="340" y="667" width="3" height="5"/>
<rect x="356" y="672" width="3" height="2"/>
<rect x="372" y="672" width="3" height="7"/>
<rect x="388" y="672" width="3" height="10"/>
<rect x="404" y="672" width="3" height="13"/>
<rect x="420" y="672" width="3" height="16"/>
<rect x="436" y="672" width="3" height="18"/>
<rect x="452" y="672" width="3" height="19"/>
<rect x="468" y="672" width="3" height="20"/>
<rect x="484" y="672" width="3" height="20"/>
<rect x="500" y="672" width="3" height="23"/>
<rect x="516" y="672" width="3" height="24"/>
<rect x="532" y="672" width="3" height="26"/>
<rect x="548" y="672" width="3" height="29"/>
<rect x="564" y="672" width="3" height="31"/>
<rect x="580" y="672" width="3" height="30"/>
<rect x="596" y="672" width="3" height="30"/>
<rect x="612" y="672" width="3" height="32"/>
<rect x="628" y="672" width="3" height="32"/>
<rect x="644" y="672" width="3" height="32"/>
<rect x="660" y="672" width="3" height="32"/>
<rect x="676" y="672" width="3" height="32"/>
<rect x="692" y="672" width="3" height="29"/>
<rect x="708" y="672" width="3" height="28"/>
<rect x="724" y="672" width="3" height="25"/>
<rect x="740" y="672" width="3" height="21"/>
<rect x="756" y="672" width="3" height="20"/>
<rect x="772" y="672" width="3" height="16"/>
<rect x="788" y="672" width="3" height="11"/>
<rect x="804" y="672" width="3" height="6"/>
<rect x="820" y="672" width="3" height="14"/>
<rect x="836" y="672" width="3" height="21"/>
<rect x="852" y="672" width="3" height="26"/>
<rect x="868" y="672" width="3" height="30"/>
<rect x="884" y="672" width="3" height="34"/>
<rect x="900" y="672" width="3" height="33"/>
<rect x="916" y="672" width="3" height="30"/>
<rect x="932" y="672" width="3" height="28"/>
<rect x="948" y="672" width="3" height="26"/>
<rect x="964" y="672" width="3" height="25"/>
<rect x="980" y="672" width="3" height="23"/>
<rect x="996" y="672" width="3" height="21"/>
<rect x="1012" y="672" width="3" height="20"/>
<rect x="1028" y="672" width="3" height="21"/>
<rect x="1044" y="672" width="3" height="21"/>
<rect x="1060" y="672" width="3" height="21"/>
<rect x="1076" y="672" width="3" height="21"/>
<rect x="1092" y="672" width="3" height="23"/>
<rect x="1108" y="672" width="3" height="24"/>
<rect x="1124" y="672" width="3" height="23"/>
<rect x="1140" y="672" width="3" height="21"/>
<rect x="1156" y="672" width="3" height="21"/>
<rect x="1172" y="672" width="3" height="19"/>
<rect x="1188" y="672" width="3" height="18"/>
<rect x="1204" y="672" width="3" height="19"/>
<rect x="1220" y="672" width="3" height="23"/>
<rect x="1236" y="672" width="3" height="24"/>
<rect x="1252" y="672" width="3" height="25"/>
<rect x="1268" y="672" width="3" height="27"/>
<rect x="1284" y="672" width="3" height="27"/>
<rect x="1300" y="672" width="3" height="26"/>
<rect x="1316" y="672" width="3" height="24"/>
<rect x="1332" y="672" width="3" height="23"/>
<rect x="1348" y="672" width="3" height="21"/>
<rect x="1364" y="672" width="3" height="20"/>
<rect x="1380" y="672" width="3" height="20"/>
<rect x="1396" y="672" width="3" height="12"/>
<rect x="1412" y="672" width="3" height="7"/>
</g>
<g clip-path="url(#cd)"><polyline points="5,605.1 20,605.1 37,606.9 53,608.3 69,609.3 85,611.8 101,614.7 125,617.5 150,619.8 175,624.2 200,628.4 225,633.1 250,637.3 275,642.5 300,647.7 325,652.4 350,657.3 375,662.8 400,667.5 420,671.9 450,678.5 500,686.7 550,693.2 600,697.2 650,701.4 700,701.9 725,700.5 750,699.6 800,694.3 825,690.5 840,689.5 870,689 880,690 900,692.2 925,695.7 950,698.6 1010,698.6 1025,696.7 1050,694.9 1075,693.4 1125,693 1175,692 1220,691.7 1237,692.5 1270,693.7 1300,694.6 1320,695.5 1350,695 1390,694 1400,693 1413,691.8" fill="none" stroke="#FF0000" stroke-width="2" shape-rendering="crispEdges"/></g>
<g clip-path="url(#cr)" shape-rendering="crispEdges">
<line x1="6" y1="736.5" x2="1644" y2="736.5" stroke="#000" stroke-width="1" stroke-dasharray="3 3"/>
<line x1="6" y1="769.5" x2="1644" y2="769.5" stroke="#000" stroke-width="1" stroke-dasharray="3 3"/>
<line x1="6" y1="808.5" x2="1644" y2="808.5" stroke="#000" stroke-width="1" stroke-dasharray="3 3"/>
<polyline points="5,739.8 21,738.8 37,742.8 53,742.8 69,741.8 85,743.8 101,741.3 117,741.3 133,741.8 149,756.9 165,755.9 181,755.9 197,756.9 213,756.9 229,762.9 245,770.8 261,767.1 277,766.6 293,760.9 309,767.8 325,767.8 341,787.7 357,787.7 373,786.2 389,786.2 405,788.4 421,789.6 437,789.6 453,787.1 469,786.6 485,786.6 501,795.8 517,789.6 533,792 549,795.5 565,794.5 581,787.6 597,788.8 613,792.5 629,792.5 645,792.5 661,791.6 677,791.6 693,782.6 709,783.4 725,777.7 741,771 757,775.4 773,767.2 789,760.3 805,759 821,788.8 837,790.6 853,788.1 869,788.1 885,790.6 901,777.9 917,773.9 933,774.7 949,774.9 965,776.4 981,774.9 997,774.7 1013,774.9 1029,779.9 1045,779.9 1061,781.9 1077,782.6 1093,783.6 1109,783.4 1125,780.4 1141,772.9 1157,776.4 1173,776.4 1189,778.9 1205,786.7 1221,786.9 1237,786.1 1253,787.6 1269,789.9 1285,784.2 1301,780.7 1317,780.7 1333,778.1 1349,778.1 1365,779.6 1381,781 1397,755.8 1413,762" fill="none" stroke="#1E90FF" stroke-width="2"/>
</g>
<g shape-rendering="crispEdges" fill="#000">
<rect x="1645" y="32" width="2" height="1"/>
<rect x="1645" y="65" width="2" height="1"/>
<rect x="1645" y="98" width="2" height="1"/>
<rect x="1645" y="131" width="2" height="1"/>
<rect x="1645" y="164" width="2" height="1"/>
<rect x="1645" y="197" width="2" height="1"/>
<rect x="1645" y="230" width="2" height="1"/>
<rect x="1645" y="263" width="2" height="1"/>
<rect x="1645" y="296" width="2" height="1"/>
<rect x="1645" y="329" width="2" height="1"/>
<rect x="1645" y="362" width="2" height="1"/>
<rect x="1645" y="395" width="2" height="1"/>
<rect x="1645" y="428" width="2" height="1"/>
<rect x="1645" y="461" width="2" height="1"/>
<rect x="1645" y="494" width="2" height="1"/>
<rect x="1645" y="527" width="2" height="1"/>
<rect x="1645" y="560" width="2" height="1"/>
<rect x="1645" y="593" width="2" height="1"/>
<rect x="1645" y="600" width="2" height="1"/>
<rect x="1645" y="672" width="2" height="1"/>
<rect x="1645" y="710" width="2" height="1"/>
<rect x="1645" y="715" width="2" height="1"/>
<rect x="1645" y="824" width="2" height="1"/>
<rect x="5" y="826" width="1" height="3"/>
<rect x="69" y="826" width="1" height="3"/>
<rect x="133" y="826" width="1" height="3"/>
<rect x="197" y="826" width="1" height="3"/>
<rect x="261" y="826" width="1" height="3"/>
<rect x="325" y="826" width="1" height="3"/>
<rect x="389" y="826" width="1" height="3"/>
<rect x="453" y="826" width="1" height="3"/>
<rect x="517" y="826" width="1" height="3"/>
<rect x="581" y="826" width="1" height="3"/>
<rect x="645" y="826" width="1" height="3"/>
<rect x="709" y="826" width="1" height="3"/>
<rect x="773" y="826" width="1" height="3"/>
<rect x="837" y="826" width="1" height="3"/>
<rect x="901" y="826" width="1" height="3"/>
<rect x="965" y="826" width="1" height="3"/>
<rect x="1029" y="826" width="1" height="3"/>
<rect x="1093" y="826" width="1" height="3"/>
<rect x="1157" y="826" width="1" height="3"/>
<rect x="1221" y="826" width="1" height="3"/>
<rect x="1285" y="826" width="1" height="3"/>
<rect x="1349" y="826" width="1" height="3"/>
<rect x="1413" y="826" width="1" height="3"/>
</g>
<g font-size="9.4" fill="#000" stroke="#000" stroke-width="0.15">
<text x="1650" y="36" textLength="33" lengthAdjust="spacingAndGlyphs">1.12885</text>
<text x="1650" y="69" textLength="33" lengthAdjust="spacingAndGlyphs">1.12660</text>
<text x="1650" y="102" textLength="33" lengthAdjust="spacingAndGlyphs">1.12430</text>
<text x="1650" y="135" textLength="33" lengthAdjust="spacingAndGlyphs">1.12205</text>
<text x="1650" y="168" textLength="33" lengthAdjust="spacingAndGlyphs">1.11980</text>
<text x="1650" y="201" textLength="33" lengthAdjust="spacingAndGlyphs">1.11755</text>
<text x="1650" y="234" textLength="33" lengthAdjust="spacingAndGlyphs">1.11525</text>
<text x="1650" y="267" textLength="33" lengthAdjust="spacingAndGlyphs">1.11300</text>
<text x="1650" y="300" textLength="33" lengthAdjust="spacingAndGlyphs">1.11075</text>
<text x="1650" y="333" textLength="33" lengthAdjust="spacingAndGlyphs">1.10845</text>
<text x="1650" y="366" textLength="33" lengthAdjust="spacingAndGlyphs">1.10620</text>
<text x="1650" y="399" textLength="33" lengthAdjust="spacingAndGlyphs">1.10395</text>
<text x="1650" y="432" textLength="33" lengthAdjust="spacingAndGlyphs">1.10170</text>
<text x="1650" y="465" textLength="33" lengthAdjust="spacingAndGlyphs">1.09940</text>
<text x="1650" y="498" textLength="33" lengthAdjust="spacingAndGlyphs">1.09715</text>
<text x="1650" y="531" textLength="33" lengthAdjust="spacingAndGlyphs">1.09490</text>
<text x="1650" y="564" textLength="33" lengthAdjust="spacingAndGlyphs">1.09265</text>
<text x="1650" y="597" textLength="33" lengthAdjust="spacingAndGlyphs">1.09035</text>
<text x="1648.5" y="608.7">0.00746</text>
<text x="1648.5" y="676">0.00</text>
<text x="1648.5" y="707.5">-0.003993</text>
<text x="1647.8" y="723.5">100</text>
<text x="1647" y="740">80</text>
<text x="1647" y="772.8">50</text>
<text x="1647.3" y="812">15</text>
<text x="1647.5" y="822">0</text>
<text x="4" y="837.6" textLength="46.8" lengthAdjust="spacingAndGlyphs">17 Jul 2023</text>
<text x="68" y="837.6" textLength="49.3" lengthAdjust="spacingAndGlyphs">17 Jul 16:00</text>
<text x="132" y="837.6" textLength="49.3" lengthAdjust="spacingAndGlyphs">18 Jul 08:00</text>
<text x="196" y="837.6" textLength="49.3" lengthAdjust="spacingAndGlyphs">19 Jul 00:00</text>
<text x="260" y="837.6" textLength="49.3" lengthAdjust="spacingAndGlyphs">19 Jul 16:00</text>
<text x="324" y="837.6" textLength="49.3" lengthAdjust="spacingAndGlyphs">20 Jul 08:00</text>
<text x="388" y="837.6" textLength="49.3" lengthAdjust="spacingAndGlyphs">21 Jul 00:00</text>
<text x="452" y="837.6" textLength="49.3" lengthAdjust="spacingAndGlyphs">21 Jul 16:00</text>
<text x="516" y="837.6" textLength="49.3" lengthAdjust="spacingAndGlyphs">24 Jul 08:00</text>
<text x="580" y="837.6" textLength="49.3" lengthAdjust="spacingAndGlyphs">25 Jul 00:00</text>
<text x="644" y="837.6" textLength="49.3" lengthAdjust="spacingAndGlyphs">25 Jul 16:00</text>
<text x="708" y="837.6" textLength="49.3" lengthAdjust="spacingAndGlyphs">26 Jul 08:00</text>
<text x="772" y="837.6" textLength="49.3" lengthAdjust="spacingAndGlyphs">27 Jul 00:00</text>
<text x="836" y="837.6" textLength="49.3" lengthAdjust="spacingAndGlyphs">27 Jul 16:00</text>
<text x="900" y="837.6" textLength="49.3" lengthAdjust="spacingAndGlyphs">28 Jul 08:00</text>
<text x="964" y="837.6" textLength="49.3" lengthAdjust="spacingAndGlyphs">31 Jul 00:00</text>
<text x="1028" y="837.6" textLength="49.3" lengthAdjust="spacingAndGlyphs">31 Jul 16:00</text>
<text x="1092" y="837.6" textLength="51.2" lengthAdjust="spacingAndGlyphs">1 Aug 08:00</text>
<text x="1156" y="837.6" textLength="51.2" lengthAdjust="spacingAndGlyphs">2 Aug 00:00</text>
<text x="1220" y="837.6" textLength="51.2" lengthAdjust="spacingAndGlyphs">2 Aug 16:00</text>
<text x="1284" y="837.6" textLength="51.2" lengthAdjust="spacingAndGlyphs">3 Aug 08:00</text>
<text x="1348" y="837.6" textLength="51.2" lengthAdjust="spacingAndGlyphs">4 Aug 00:00</text>
<text x="1412" y="837.6" textLength="51.2" lengthAdjust="spacingAndGlyphs">4 Aug 16:00</text>
<text x="20.5" y="36" font-size="10" textLength="203" lengthAdjust="spacingAndGlyphs" xml:space="preserve">EURUSD-,H4  1.10343 1.10387 1.10080 1.10086</text>
<text x="9" y="611" font-size="10" textLength="153" lengthAdjust="spacingAndGlyphs">MACD(12,26,9) -0.000662 -0.001974</text>
<text x="9" y="726.5" font-size="10" textLength="68" lengthAdjust="spacingAndGlyphs">RSI(14) 56.6833</text>
</g>
<rect x="1646" y="368" width="41" height="11" fill="#FF0000" shape-rendering="crispEdges"/>
<text x="1650" y="377" font-size="9.4" fill="#fff" stroke="#fff" stroke-width="0.1" textLength="33" lengthAdjust="spacingAndGlyphs">1.10540</text>
<rect x="1646" y="402" width="41" height="11" fill="#FF0000" shape-rendering="crispEdges"/>
<text x="1650" y="411" font-size="9.4" fill="#fff" stroke="#fff" stroke-width="0.1" textLength="33" lengthAdjust="spacingAndGlyphs">1.10307</text>
<rect x="1646" y="435" width="41" height="11" fill="#000000" shape-rendering="crispEdges"/>
<text x="1650" y="444" font-size="9.4" fill="#fff" stroke="#fff" stroke-width="0.1" textLength="33" lengthAdjust="spacingAndGlyphs">1.10086</text>
<rect x="1646" y="450" width="41" height="11" fill="#006400" shape-rendering="crispEdges"/>
<text x="1650" y="459" font-size="9.4" fill="#fff" stroke="#fff" stroke-width="0.1" textLength="33" lengthAdjust="spacingAndGlyphs">1.09986</text>
<rect x="1646" y="480" width="41" height="11" fill="#0000FF" shape-rendering="crispEdges"/>
<text x="1650" y="489" font-size="9.4" fill="#fff" stroke="#fff" stroke-width="0.1" textLength="33" lengthAdjust="spacingAndGlyphs">1.09780</text>
<rect x="1646" y="512" width="41" height="11" fill="#0000FF" shape-rendering="crispEdges"/>
<text x="1650" y="521" font-size="9.4" fill="#fff" stroke="#fff" stroke-width="0.1" textLength="33" lengthAdjust="spacingAndGlyphs">1.09554</text>
<polygon points="8,31 15,31 11.5,35" fill="#000"/>
<polygon points="1442,25 1451,25 1446.5,30" fill="#000"/>
<line x1="1460.6" y1="541.2" x2="1494" y2="483.5" stroke="#E31A22" stroke-width="3"/>
<polygon points="1502.5,469 1486.1,479.6 1501.8,488.5" fill="#E31A22"/>
</svg>
</body></html>
